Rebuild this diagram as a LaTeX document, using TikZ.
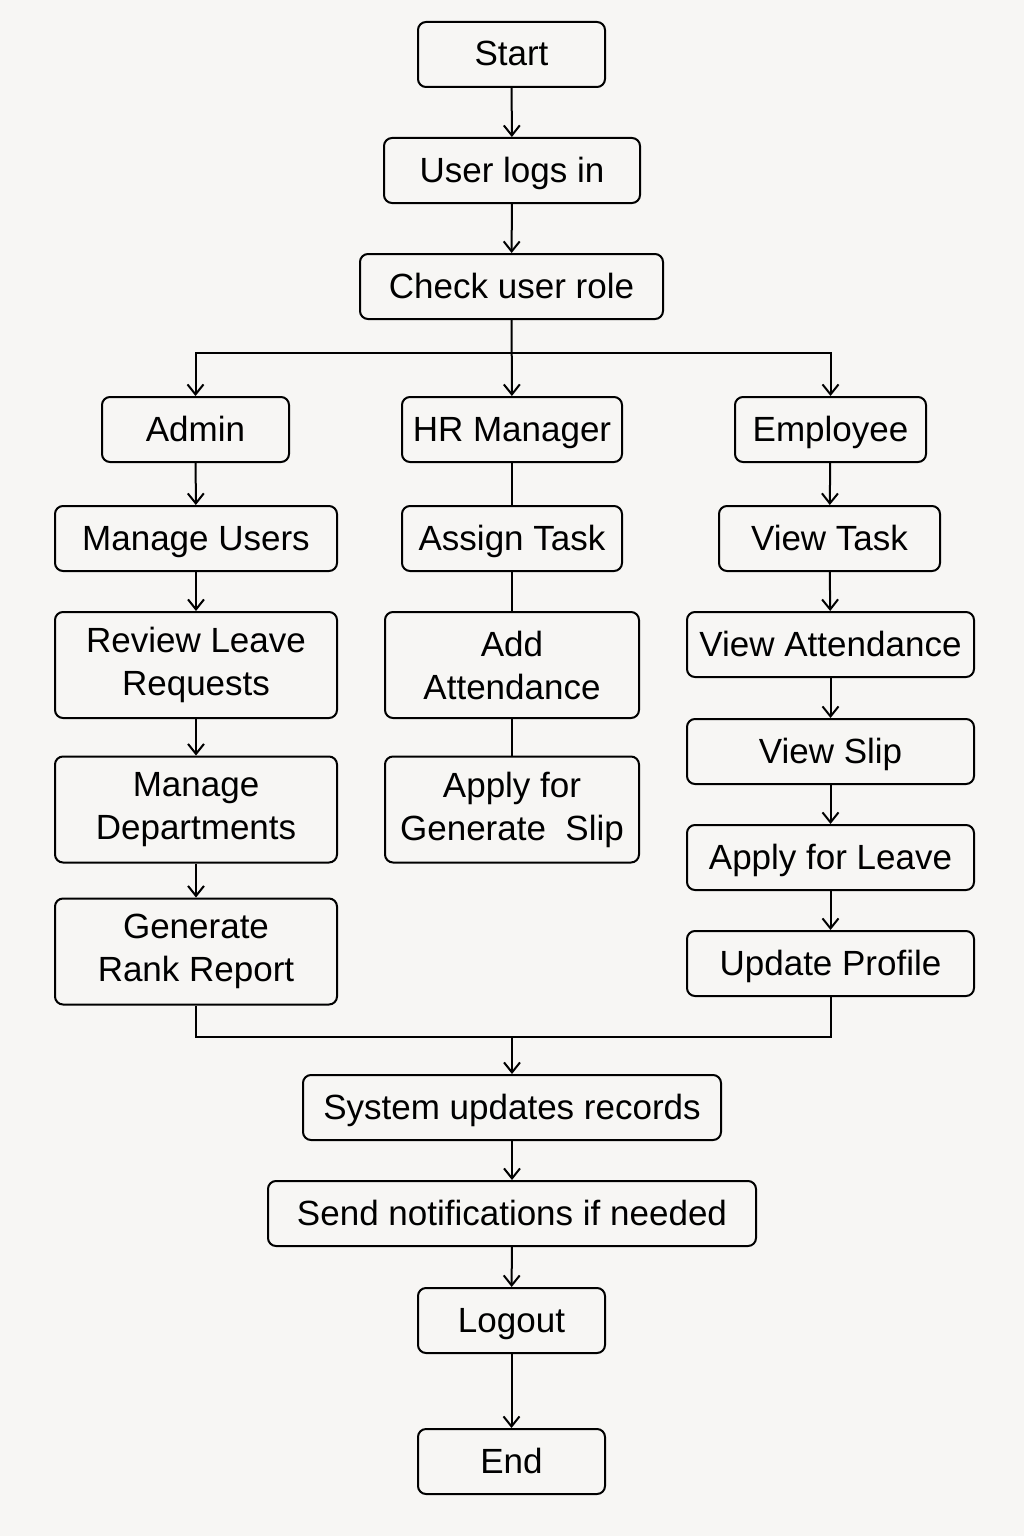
\documentclass[tikz,border=0pt]{standalone}
\usepackage{fontspec}
\setmainfont{Liberation Sans}
\usetikzlibrary{arrows.meta}
\definecolor{paper}{HTML}{F7F6F4}
\begin{document}
\begin{tikzpicture}[x=0.5pt, y=-0.5pt,
	box/.style={draw, line width=1pt, rounded corners=4pt, align=center, inner sep=0pt,
		minimum height=32.5pt, text height=14pt, text depth=2.5pt,
		font=\fontsize{17.5}{21.5}\selectfont},
	tall/.style={box, minimum height=53pt, text height=, text depth=},
	arr/.style={line width=1pt, -{Straight Barb[length=5pt, width=8pt]}},
	link/.style={line width=1pt}]
	% Page
	\fill [paper] (0,0) rectangle (1024,1536);
	% Top
	\node [box, minimum width=93.5pt] (start) at (511.5,54.5) {Start};
	\node [box, minimum width=128pt] (login) at (512,170.5) {User logs in};
	\node [box, minimum width=151.5pt] (role) at (511.5,286.5) {Check user role};
	% Roles
	\node [box, minimum width=93.5pt] (admin) at (195.5,429.5) {Admin};
	\node [box, minimum width=110pt] (hr) at (512,429.5) {HR Manager};
	\node [box, minimum width=95.5pt] (emp) at (830.5,429.5) {Employee};
	% Admin
	\node [box, minimum width=141pt] (users) at (196,538.5) {Manage Users};
	\node [tall, minimum width=141pt] (review) at (196,665) {Review Leave\\Requests};
	\node [tall, minimum width=141pt] (depts) at (196,809.5) {Manage\\Departments};
	\node [tall, minimum width=141pt] (rank) at (196,951.5) {Generate\\Rank Report};
	% HR Manager
	\node [box, minimum width=110pt] (assign) at (512,538.5) {Assign Task};
	\node [tall, minimum width=127pt] (addatt) at (512,665) {Add\\Attendance};
	\node [tall, minimum width=127pt] (slip) at (512,809.5) {Apply for\\Generate\ \ Slip};
	% Employee
	\node [box, minimum width=110.5pt] (vtask) at (829.5,538.5) {View Task};
	\node [box, minimum width=143.5pt] (vatt) at (830.5,644.5) {View Attendance};
	\node [box, minimum width=143.5pt] (vslip) at (830.5,751.5) {View Slip};
	\node [box, minimum width=143.5pt] (leave) at (830.5,857.5) {Apply for Leave};
	\node [box, minimum width=143.5pt] (profile) at (830.5,963.5) {Update Profile};
	% Bottom
	\node [box, minimum width=209pt] (sysupd) at (512,1107.5) {System updates records};
	\node [box, minimum width=244pt] (notify) at (512,1213.5) {Send notifications if needed};
	\node [box, minimum width=93.5pt] (logout) at (511.5,1320.5) {Logout};
	\node [box, minimum width=93.5pt] (finish) at (511.5,1461.5) {End};
	% Split and join
	\coordinate (split) at (512,353);
	\coordinate (join) at (512,1037);
	% Arrows
	\draw [arr] (start) -- (login);
	\draw [arr] (login) -- (role);
	\draw [arr] (role) -- (hr);
	\draw [arr] (split) -| (admin.north);
	\draw [arr] (split) -| (emp.north);
	\foreach \a/\b in {admin/users, users/review, review/depts, depts/rank,
		emp/vtask, vtask/vatt, vatt/vslip, vslip/leave, leave/profile} {
		\draw [arr] (\a) -- (\b);
	}
	\foreach \a/\b in {hr/assign, assign/addatt, addatt/slip} {
		\draw [link] (\a) -- (\b);
	}
	\draw [link] (rank.south) |- (join) -| (profile.south);
	\draw [arr] (join) -- (sysupd);
	\draw [arr] (sysupd) -- (notify);
	\draw [arr] (notify) -- (logout);
	\draw [arr] (logout) -- (finish);
\end{tikzpicture}
\end{document}
